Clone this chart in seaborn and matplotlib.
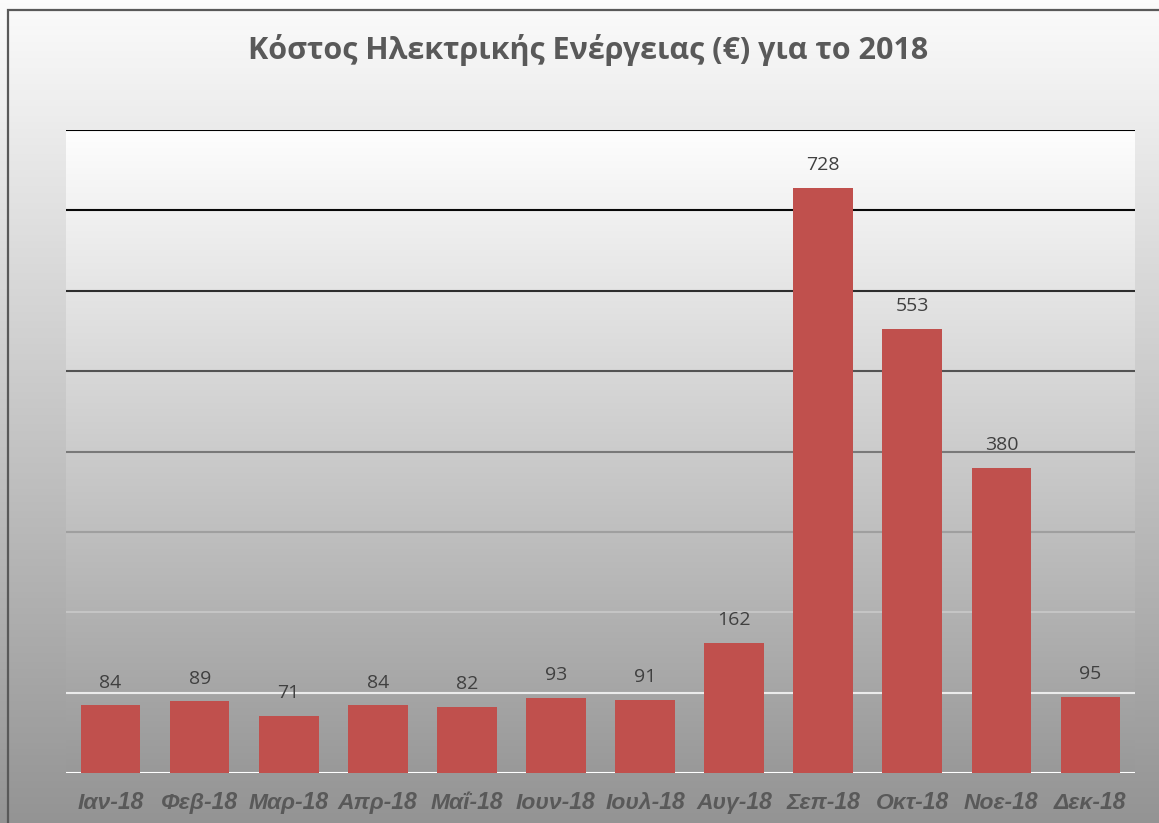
import matplotlib
matplotlib.use("Agg")
import matplotlib.pyplot as plt
import seaborn as sns
import numpy as np
import pandas as pd
from matplotlib.patches import Rectangle

months = ["Ιαν-18", "Φεβ-18", "Μαρ-18", "Απρ-18", "Μαΐ-18", "Ιουν-18",
          "Ιουλ-18", "Αυγ-18", "Σεπ-18", "Οκτ-18", "Νοε-18", "Δεκ-18"]
cost = [84, 89, 71, 84, 82, 93, 91, 162, 728, 553, 380, 95]
grid_levels = [0, 100, 200, 300, 400, 500, 600, 700, 800]

df = pd.DataFrame({"month": months, "cost": cost})

sns.set_style("white")
plt.rcParams["font.family"] = ["Open Sans", "DejaVu Sans"]

W, H = 1159, 823
fig = plt.figure(figsize=(W / 100, H / 100), dpi=100)

# background gradient of the whole chart
bg = fig.add_axes([0, 0, 1, 1], zorder=-10)
grad = np.linspace(0.985, 0.58, 256).reshape(-1, 1)
bg.imshow(np.dstack([grad] * 3), aspect="auto", extent=[0, 1, 0, 1])
bg.set_axis_off()
# outer frame
fig.patches.append(Rectangle((8 / W, -0.05), 1.1, 1 - 10 / H + 0.05,
                             transform=fig.transFigure, fill=False,
                             edgecolor="#595959", lw=1.6))

left, right, top, bottom = 66, 1135, 130, 773
ax = fig.add_axes([left / W, 1 - bottom / H, (right - left) / W, (bottom - top) / H])

sns.barplot(data=df, x="month", y="cost", color="#C0504D", width=0.67,
            saturation=1, linewidth=0, edgecolor="none", ax=ax, zorder=3)

ax.set_xlim(-0.5, len(months) - 0.5)
ax.set_ylim(0, 800)

# plot area gradient
pg = np.linspace(0.995, 0.60, 256).reshape(-1, 1)
ax.imshow(np.dstack([pg] * 3), aspect="auto", extent=[-0.5, len(months) - 0.5, 0, 800],
          zorder=0, origin="upper")

# gridlines fading from black (top) to white (bottom)
for lvl in grid_levels:
    t = lvl / 800
    shade = np.clip(1.0 - (t - 0.1) / 0.8, 0, 1) * 0.95 if lvl > 0 else 1.0
    ax.axhline(lvl, color=(shade, shade, shade), lw=1.5, zorder=2)

for i, v in enumerate(cost):
    ax.annotate(str(v), (i, v), xytext=(0, 10), textcoords="offset points",
                ha="center", va="bottom", fontsize=14, color="#404040", zorder=5)

ax.set_yticks([])
ax.set_xlabel("")
ax.set_ylabel("")
ax.tick_params(axis="x", length=0, pad=13)
for lab in ax.get_xticklabels():
    lab.set_fontfamily(["Liberation Sans", "DejaVu Sans"])
    lab.set_fontweight("bold")
    lab.set_fontstyle("italic")
    lab.set_fontsize(16.5)
    lab.set_color("#595959")
for s in ax.spines.values():
    s.set_visible(False)

fig.text(588 / W, 1 - 50 / H, "Κόστος Ηλεκτρικής Ενέργειας (€) για το 2018",
         ha="center", va="center", fontsize=22, fontweight="bold", color="#595959")

fig.savefig("out.png", dpi=100)
